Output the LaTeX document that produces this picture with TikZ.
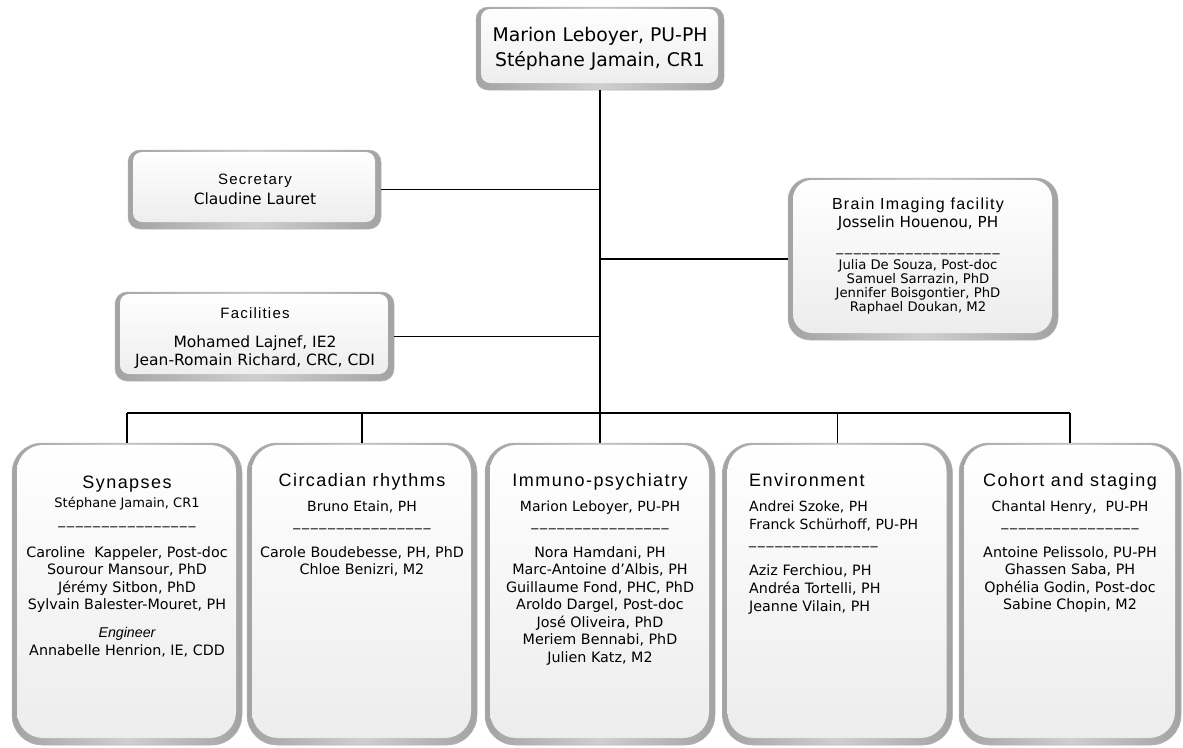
\documentclass[tikz,border=0pt]{standalone}
\usepackage{fontspec}
\setmainfont{DejaVu Sans}
\newfontfamily\ttlfont[LetterSpace=8]{Liberation Sans}
\newfontfamily\helvfont{Liberation Sans}
\newfontfamily\dashfont[LetterSpace=12]{DejaVu Sans}
\newcommand\myunders{\_\_\_\_\_\_\_\_\_\_\_\_\_\_\_\_}
\begin{document}
\begin{tikzpicture}[x=1pt,y=-1pt,
  bev/.style n args={2}{inner sep=0pt, rounded corners=#1, draw=gray!60, line width=0.5pt,
     left color=gray!72, right color=gray!72, middle color=gray!38,
     path picture={\shade[top color=white, bottom color=gray!15, rounded corners=#2]
        ([xshift=5pt,yshift=-2pt]path picture bounding box.north west) rectangle
        ([xshift=-6pt,yshift=7pt]path picture bounding box.south east);}},
  conn/.style={draw=black, line width=1.4pt},
  ttl/.style={anchor=base, inner sep=0pt, font=\ttlfont\fontsize{18}{20}\selectfont},
  hd/.style={anchor=base, inner sep=0pt, font=\ttlfont\fontsize{15}{17}\selectfont},
  lead/.style={anchor=base, inner sep=0pt, font=\fontsize{14}{16}\selectfont},
  mem/.style={anchor=base, inner sep=0pt, font=\fontsize{14.3}{17}\selectfont},
  nm/.style={anchor=base, inner sep=0pt, font=\fontsize{15.5}{18}\selectfont},
  dsh/.style={anchor=base, inner sep=0pt, font=\dashfont\fontsize{14}{16}\selectfont}
]
\useasboundingbox (0,0) rectangle (1183,747);

% ---------- boxes ----------
\node[bev={12pt}{9pt}, minimum width=248pt, minimum height=83pt] (top) at (600,48.5) {};
\node[bev={12pt}{9pt}, minimum width=253pt, minimum height=79pt] (sec) at (254.5,189.5) {};
\node[bev={22pt}{19pt}, minimum width=270pt, minimum height=162pt] (brain) at (923,259) {};
\node[bev={12pt}{9pt}, minimum width=279pt, minimum height=89pt] (fac) at (254.5,336.5) {};
\node[bev={30pt}{26pt}, minimum width=230pt, minimum height=302pt] (syn) at (127,594) {};
\node[bev={30pt}{26pt}, minimum width=230pt, minimum height=302pt] (cir) at (362,594) {};
\node[bev={30pt}{26pt}, minimum width=230pt, minimum height=302pt] (imm) at (600,594) {};
\node[bev={30pt}{26pt}, minimum width=230pt, minimum height=302pt] (env) at (837.5,594) {};
\node[bev={30pt}{26pt}, minimum width=222pt, minimum height=302pt] (coh) at (1070,594) {};

% ---------- connectors ----------
\coordinate (bus) at (600,413);
\draw[conn] (top.south) -- (imm.north);
\draw[conn] (syn.north |- bus) -- (coh.north |- bus);
\foreach \b in {syn,cir,env,coh} \draw[conn] (\b.north |- bus) -- (\b.north);
\draw[conn] (sec.east) -- (sec.east -| top.south);
\draw[conn] (brain.west) -- (brain.west -| top.south);
\draw[conn] (fac.east) -- (fac.east -| top.south);

% ---------- top ----------
\node[anchor=base, inner sep=0pt, font=\fontsize{18.8}{20}\selectfont] (top-a) at (600,41.8) {Marion Leboyer, PU-PH};
\node[anchor=base, inner sep=0pt, font=\fontsize{18.8}{20}\selectfont] (top-b) at (600,66.8) {Stéphane Jamain, CR1};

% ---------- secretary ----------
\node[hd] (sec-t) at (255,184.4) {Secretary};
\node[nm] (sec-n) at (255,204.6) {Claudine Lauret};

% ---------- facilities ----------
\node[hd] (fac-t) at (255,318.4) {Facilities};
\node[nm] (fac-a) at (255,347.6) {Mohamed Lajnef, IE2};
\node[nm] (fac-b) at (255,365.6) {Jean-Romain Richard, CRC, CDI};

% ---------- brain imaging ----------
\node[anchor=base, inner sep=0pt, font=\ttlfont\fontsize{16}{18}\selectfont] (brain-t) at (918,209) {Brain Imaging facility};
\node[anchor=base, inner sep=0pt, font=\fontsize{15.2}{17}\selectfont] (brain-l) at (918,227.5) {Josselin Houenou, PH};
\node[dsh] (brain-d) at (918,251) {\myunders\_\_\_};
\foreach \t [count=\i from 0] in {{Julia De Souza, Post-doc},{Samuel Sarrazin, PhD},{Jennifer Boisgontier, PhD},{Raphael Doukan, M2}}
  \node[anchor=base, inner sep=0pt, font=\fontsize{13.2}{15}\selectfont] (brain-m\i) at (918,{269.8+14*\i}) {\t};

% ---------- synapses ----------
\node[ttl] (syn-t) at (127,488.5) {Synapses};
\node[anchor=base, inner sep=0pt, font=\fontsize{13}{15}\selectfont] (syn-l) at (127,507.7) {Stéphane Jamain, CR1};
\node[dsh] (syn-d) at (127,524.5) {\myunders};
\foreach \t [count=\i from 0] in {{Caroline~ Kappeler, Post-doc},{Sourour Mansour, PhD},{Jérémy Sitbon, PhD},{Sylvain Balester-Mouret, PH}}
  \node[mem] (syn-m\i) at (127,{557.1+17.6*\i}) {\t};
\node[anchor=base, inner sep=0pt, font=\helvfont\itshape\fontsize{14.2}{16}\selectfont] (syn-e) at (127,637) {Engineer};
\node[mem] (syn-a) at (127,655) {Annabelle Henrion, IE, CDD};

% ---------- circadian ----------
\node[ttl] (cir-t) at (362,486.5) {Circadian rhythms};
\node[lead] (cir-l) at (362,511) {Bruno Etain, PH};
\node[dsh] (cir-d) at (362,526.5) {\myunders};
\foreach \t [count=\i from 0] in {{Carole Boudebesse, PH, PhD},{Chloe Benizri, M2}}
  \node[mem] (cir-m\i) at (362,{557.1+17.6*\i}) {\t};

% ---------- immuno ----------
\node[ttl] (imm-t) at (600,486.5) {Immuno-psychiatry};
\node[lead] (imm-l) at (600,511) {Marion Leboyer, PU-PH};
\node[dsh] (imm-d) at (600,526.5) {\myunders};
\foreach \t [count=\i from 0] in {{Nora Hamdani, PH},{Marc-Antoine d’Albis, PH},{Guillaume Fond, PHC, PhD},{Aroldo Dargel, Post-doc},{José Oliveira, PhD},{Meriem Bennabi, PhD},{Julien Katz, M2}}
  \node[mem] (imm-m\i) at (600,{557.1+17.5*\i}) {\t};

% ---------- environment ----------
\node[ttl, anchor=base west] (env-t) at (749,486.5) {Environment};
\node[lead, anchor=base west] (env-l1) at (749,511) {Andrei Szoke, PH};
\node[lead, anchor=base west] (env-l2) at (749,529) {Franck Schürhoff, PU-PH};
\node[dsh, anchor=base west] (env-d) at (749,544.5) {\_\_\_\_\_\_\_\_\_\_\_\_\_\_\_};
\foreach \t [count=\i from 0] in {{Aziz Ferchiou, PH},{Andréa Tortelli, PH},{Jeanne Vilain, PH}}
  \node[mem, anchor=base west] (env-m\i) at (749,{575.1+18*\i}) {\t};

% ---------- cohort ----------
\node[ttl] (coh-t) at (1070,486.5) {Cohort and staging};
\node[lead] (coh-l) at (1070,511) {Chantal Henry,~ PU-PH};
\node[dsh] (coh-d) at (1070,526.5) {\myunders};
\foreach \t [count=\i from 0] in {{Antoine Pelissolo, PU-PH},{Ghassen Saba, PH},{Ophélia Godin, Post-doc},{Sabine Chopin, M2}}
  \node[mem] (coh-m\i) at (1070,{557.1+17.6*\i}) {\t};
\end{tikzpicture}
\end{document}
